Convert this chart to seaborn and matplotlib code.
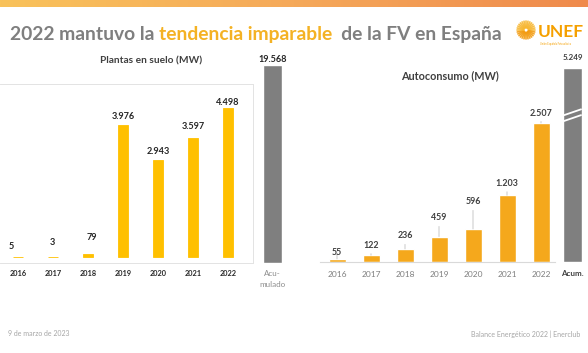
import numpy as np
import pandas as pd
import matplotlib
matplotlib.use("Agg")
import matplotlib.pyplot as plt
import seaborn as sns

# data
years = ["2016", "2017", "2018", "2019", "2020", "2021", "2022"]
suelo_mw = [5, 3, 79, 3976, 2943, 3597, 4498]
suelo_acumulado = 19568
autoconsumo_mw = [55, 122, 236, 459, 596, 1203, 2507]
autoconsumo_acumulado = 5249

# label placement (pixels above bar top / sideways shift)
suelo_lab_dy = [10, 14, 17, 9, 8, 11, 6]
suelo_lab_dx = [-7, -1, 4, 0, 0, 0, 0]
auto_lab_dy = [6, 10, 13, 18.6, 27, 12, 10]

YELLOW = "#FFC000"
ORANGE = "#F5A81C"
GRAY_BAR = "#7F7F7F"
TITLE_GRAY = "#7F7F7F"
DARK = "#262626"

W, H = 588, 353
PT = 72 / 100  # points per pixel at dpi 100


def fmt(v):
    return f"{v:,}".replace(",", ".")


def rect(x0, y0, x1, y1):
    # pixel box (top-left origin) -> figure fraction
    return [x0 / W, 1 - y1 / H, (x1 - x0) / W, (y1 - y0) / H]


sns.set_style("white")
plt.rcParams["font.family"] = ["Lato", "DejaVu Sans"]

fig = plt.figure(figsize=(W / 100, H / 100), dpi=100)

# background layer in pixel coordinates
bg = fig.add_axes([0, 0, 1, 1], zorder=0)
bg.set_xlim(0, W)
bg.set_ylim(H, 0)
bg.axis("off")

grad = np.linspace(0, 1, 256).reshape(1, -1)
cmap = matplotlib.colors.LinearSegmentedColormap.from_list("strip", ["#F9C25A", "#F5A95A", "#EF8A4C"])
bg.imshow(grad, extent=(0, W, 7, 0), aspect="auto", cmap=cmap)

# title in three pieces
t1 = bg.text(10, 40, "2022 mantuvo la ", fontsize=13.9, fontweight="bold", color=TITLE_GRAY, va="baseline")
t2 = bg.annotate("tendencia imparable", xy=(1, 0), xycoords=t1, va="bottom", ha="left",
                 fontsize=13.9, fontweight="bold", color="#F4B224")
t3 = bg.annotate("  de la FV en España", xy=(1, 0), xycoords=t2, va="bottom", ha="left",
                 fontsize=13.9, fontweight="bold", color=TITLE_GRAY)

# UNEF logo (rough)
cx, cy = 526, 30
for a in np.linspace(0, 2 * np.pi, 28, endpoint=False):
    r0, r1 = 2.5, 9
    bg.plot([cx + r0 * np.cos(a), cx + r1 * np.cos(a)], [cy + r0 * np.sin(a), cy + r1 * np.sin(a)],
            color="#F7B733" if np.sin(a) < 0.2 else "#F39C12", lw=1.2, solid_capstyle="round", alpha=0.9)
bg.text(538, 37, "UNEF", fontsize=12.5, fontweight="bold", color="#F5A000", va="baseline")
bg.text(540, 42, "Unión Española Fotovoltaica", fontsize=1.8, color="#F5A000", va="top")

# chart titles and side labels
bg.text(151, 61, "Plantas en suelo (MW)", fontsize=7.3, fontweight="bold", color="#404040", ha="center", va="center")
bg.text(450, 76, "Autoconsumo (MW)", fontsize=7.8, fontweight="bold", color="#404040", ha="center", va="center")
bg.text(272.5, 279, "Acu-\nmulado", fontsize=5.8, color="#8C8C8C", ha="center", va="center", linespacing=1.6)
bg.text(572, 274, "Acum.", fontsize=5.8, fontweight="bold", color="#404040", ha="center", va="center")

# footer
bg.text(8, 334, "9 de marzo de 2023", fontsize=5, color="#A6A6A6", va="center")
bg.text(580, 334, "Balance Energético 2022 | Enerclub", fontsize=5, color="#A6A6A6", va="center", ha="right")

# ---- left chart: plantas en suelo
df_suelo = pd.DataFrame({"year": years, "mw": suelo_mw})
ax1 = fig.add_axes(rect(0, 84, 253, 263), zorder=1)
ax1.patch.set_alpha(0)
sns.barplot(data=df_suelo, x="year", y="mw", color=YELLOW, width=0.31, ax=ax1,
            saturation=1, edgecolor=YELLOW, linewidth=0.6)
mw_per_px = 4498 / 149
ax1.set_xlim((0 - 18) / 35, (253 - 18) / 35)
ax1.set_ylim(-6 * mw_per_px, (257 - 84) * mw_per_px)
ax1.set_xlabel("")
ax1.set_ylabel("")
ax1.set_yticks([])
ax1.tick_params(axis="x", length=0, pad=5, labelsize=5.3, labelcolor=DARK)
for lab in ax1.get_xticklabels():
    lab.set_fontweight("bold")
for s in ax1.spines.values():
    s.set_color("#E3E3E3")
    s.set_linewidth(0.7)
ax1.spines["left"].set_visible(False)
for i, v in enumerate(suelo_mw):
    ax1.annotate(fmt(v), xy=(i, v), xytext=(suelo_lab_dx[i] * PT, suelo_lab_dy[i] * PT),
                 textcoords="offset points", ha="center", va="center",
                 fontsize=6.6, fontweight="bold", color=DARK)

ax1b = fig.add_axes(rect(263, 65, 282, 263), zorder=1)
ax1b.patch.set_alpha(0)
sns.barplot(x=["Acumulado"], y=[suelo_acumulado], color=GRAY_BAR, width=1, saturation=1, ax=ax1b)
ax1b.set_xlim(-0.5, 0.5)
ax1b.set_ylim(0, suelo_acumulado)
ax1b.axis("off")
ax1b.annotate(fmt(suelo_acumulado), xy=(0, suelo_acumulado), xytext=(0, 5 * PT), textcoords="offset points",
              ha="center", va="center", fontsize=6.6, fontweight="bold", color=DARK)

# ---- right chart: autoconsumo
df_auto = pd.DataFrame({"year": years, "mw": autoconsumo_mw})
ax2 = fig.add_axes(rect(320, 100, 555, 262), zorder=1)
ax2.patch.set_alpha(0)
sns.barplot(data=df_auto, x="year", y="mw", color=ORANGE, width=0.5, saturation=1, ax=ax2)
mw_per_px2 = 2507 / 139
ax2.set_xlim((320 - 337) / 34, (555 - 337) / 34)
ax2.set_ylim(0, (262 - 100) * mw_per_px2)
ax2.set_xlabel("")
ax2.set_ylabel("")
ax2.set_yticks([])
ax2.tick_params(axis="x", length=0, pad=6.5, labelsize=6, labelcolor="#7F7F7F")
for s in ["top", "left", "right"]:
    ax2.spines[s].set_visible(False)
ax2.spines["bottom"].set_color("#D9D9D9")
ax2.spines["bottom"].set_linewidth(0.8)
for i, v in enumerate(autoconsumo_mw):
    ax2.annotate(fmt(v), xy=(i, v), xytext=(0, auto_lab_dy[i] * PT), textcoords="offset points",
                 ha="center", va="center", fontsize=6.4, fontweight="bold", color="#404040",
                 arrowprops=dict(arrowstyle="-", color="#BFBFBF", lw=0.6, shrinkA=0.5, shrinkB=0))

ax2b = fig.add_axes(rect(563, 68, 582, 262), zorder=1)
ax2b.patch.set_alpha(0)
sns.barplot(x=["Acum."], y=[autoconsumo_acumulado], color=GRAY_BAR, width=1, saturation=1, ax=ax2b)
ax2b.set_xlim(-0.5, 0.5)
ax2b.set_ylim(0, autoconsumo_acumulado)
ax2b.axis("off")
ax2b.annotate(fmt(autoconsumo_acumulado), xy=(0, autoconsumo_acumulado), xytext=(0, 11 * PT),
              textcoords="offset points", ha="center", va="center", fontsize=5.8, fontweight="bold",
              color="#404040")
# axis break marks
for yb in (0.745, 0.775):
    ax2b.plot([-0.65, 0.45], [autoconsumo_acumulado * (yb - 0.025), autoconsumo_acumulado * (yb + 0.012)],
              color="white", lw=1.3, clip_on=False, zorder=5)

fig.savefig("out.png", dpi=100)
